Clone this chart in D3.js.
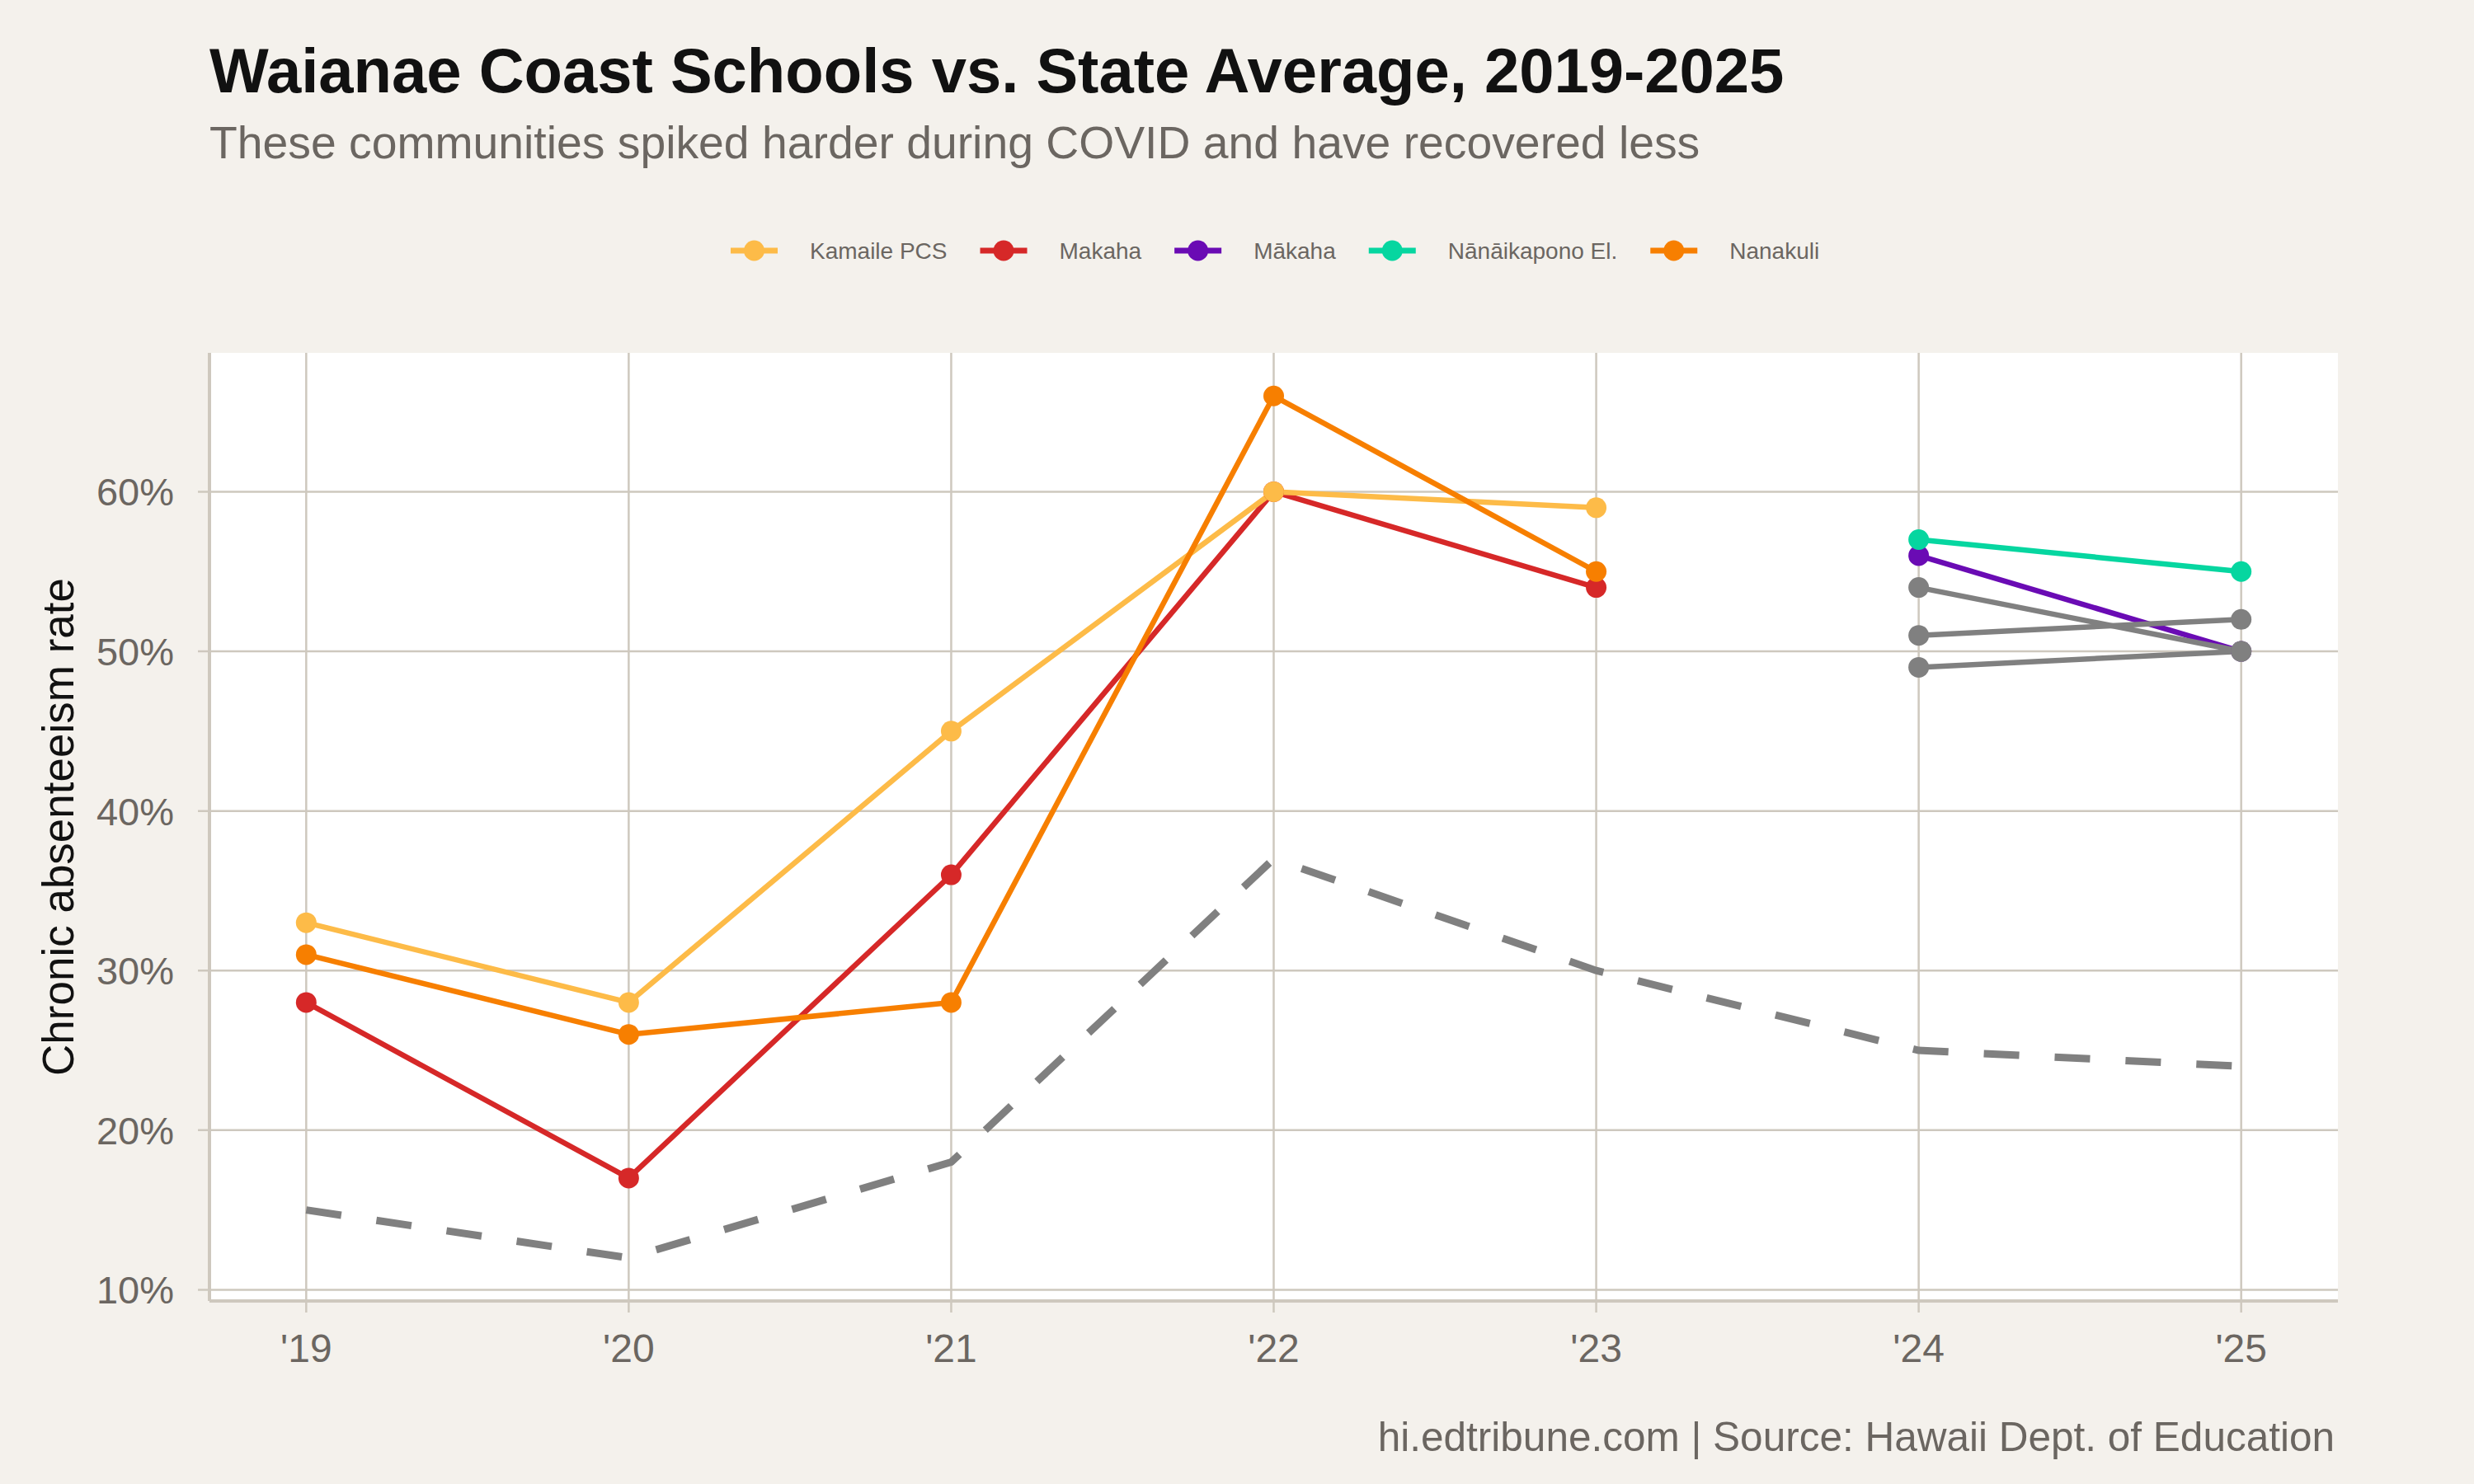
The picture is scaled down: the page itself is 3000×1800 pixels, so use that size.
<!DOCTYPE html>
<html>
<head>
<meta charset="utf-8">
<script src="https://cdn.jsdelivr.net/npm/d3@7"></script>
<style>
    body { margin: 0; background: #F4F1EC; }
    svg { display: block; font-family: "Liberation Sans", Arial, sans-serif; }
</style>
</head>
<body>
<script>
// school years (spring of the school year)
const years = [2019, 2020, 2021, 2022, 2023, 2024, 2025];
const yearLabels = ["'19", "'20", "'21", "'22", "'23", "'24", "'25"];
const yTicks = [10, 20, 30, 40, 50, 60];

// chronic absenteeism rate, percent (null = no data)
const stateAverage = [15, 12, 18, 37, 30, 25, 24];
const kamaile      = [33, 28, 45, 60, 59, null, null];
const makaha       = [28, 17, 36, 60, 54, null, null];
const nanakuli     = [31, 26, 28, 66, 55, null, null];
const makahaNew    = [null, null, null, null, null, 56, 50];
const nanaikapono  = [null, null, null, null, null, 57, 55];
const otherA       = [null, null, null, null, null, 54, 50];
const otherB       = [null, null, null, null, null, 51, 52];
const otherC       = [null, null, null, null, null, 49, 50];

const legendNames  = ['Kamaile PCS', 'Makaha', 'M\u0101kaha', 'N\u0101n\u0101ikapono El.', 'Nanakuli'];
const legendColors = ['#FDBB48', '#D62828', '#6A0BB4', '#06D6A0', '#F77F00'];

drawChart();

function drawChart()
{
    const width = 3000;
    const height = 1800;
    const margin = {left: 254, right: 165, top: 428, bottom: 222};
    const textGray = '#6B6661';
    const gridColor = '#CEC8BE';

    const svg = d3.select('body')
        .append('svg')
        .attr('width', width)
        .attr('height', height);

    svg.append('rect')
        .attr('width', width)
        .attr('height', height)
        .attr('fill', '#F4F1EC');

    // ggplot style 5% expansion on both axes
    const x = d3.scaleLinear()
        .domain([2018.7, 2025.3])
        .range([margin.left, width - margin.right]);

    const y = d3.scaleLinear()
        .domain([9.3, 68.7])
        .range([height - margin.bottom, margin.top]);

    // panel
    svg.append('rect')
        .attr('x', margin.left)
        .attr('y', margin.top)
        .attr('width', width - margin.left - margin.right)
        .attr('height', height - margin.top - margin.bottom)
        .attr('fill', '#FFFFFF');

    // grid
    svg.append('g')
        .selectAll('line')
        .data(yTicks)
        .join('line')
        .attr('x1', margin.left - 14)
        .attr('x2', width - margin.right)
        .attr('y1', d => y(d))
        .attr('y2', d => y(d))
        .attr('stroke', gridColor)
        .attr('stroke-width', 2.5);

    svg.append('g')
        .selectAll('line')
        .data(years)
        .join('line')
        .attr('x1', d => x(d))
        .attr('x2', d => x(d))
        .attr('y1', margin.top)
        .attr('y2', height - margin.bottom + 14)
        .attr('stroke', gridColor)
        .attr('stroke-width', 2.5);

    // axis lines
    svg.append('line')
        .attr('x1', margin.left)
        .attr('x2', margin.left)
        .attr('y1', margin.top)
        .attr('y2', height - margin.bottom)
        .attr('stroke', gridColor)
        .attr('stroke-width', 4);

    svg.append('line')
        .attr('x1', margin.left)
        .attr('x2', width - margin.right)
        .attr('y1', height - margin.bottom)
        .attr('y2', height - margin.bottom)
        .attr('stroke', gridColor)
        .attr('stroke-width', 4);

    // tick labels
    svg.append('g')
        .selectAll('text')
        .data(yTicks)
        .join('text')
        .attr('x', 211)
        .attr('y', d => y(d))
        .attr('dy', '0.36em')
        .attr('text-anchor', 'end')
        .attr('font-size', 47)
        .attr('fill', textGray)
        .text(d => d + '%');

    svg.append('g')
        .selectAll('text')
        .data(years)
        .join('text')
        .attr('x', d => x(d))
        .attr('y', 1652)
        .attr('text-anchor', 'middle')
        .attr('font-size', 48)
        .attr('fill', textGray)
        .text((d, i) => yearLabels[i]);

    svg.append('text')
        .attr('transform', 'translate(89, 1003) rotate(-90)')
        .attr('text-anchor', 'middle')
        .attr('font-size', 53)
        .attr('fill', '#111111')
        .text('Chronic absenteeism rate');

    // lines
    const line = d3.line()
        .defined(d => d.v !== null)
        .x(d => x(d.year))
        .y(d => y(d.v));

    const toPoints = values => years.map((year, i) => ({year: year, v: values[i]}));

    svg.append('path')
        .attr('d', line(toPoints(stateAverage)))
        .attr('fill', 'none')
        .attr('stroke', '#808080')
        .attr('stroke-width', 9)
        .attr('stroke-dasharray', '43 43');

    const series = [
        {values: makaha, color: legendColors[1]},
        {values: kamaile, color: legendColors[0]},
        {values: nanakuli, color: legendColors[4]},
        {values: makahaNew, color: legendColors[2]},
        {values: nanaikapono, color: legendColors[3]},
        {values: otherA, color: '#808080'},
        {values: otherB, color: '#808080'},
        {values: otherC, color: '#808080'}
    ];

    series.forEach(s =>
    {
        svg.append('path')
            .attr('d', line(toPoints(s.values)))
            .attr('fill', 'none')
            .attr('stroke', s.color)
            .attr('stroke-width', 6.5)
            .attr('stroke-linejoin', 'round');
    });

    series.forEach(s =>
    {
        svg.append('g')
            .selectAll('circle')
            .data(toPoints(s.values).filter(d => d.v !== null))
            .join('circle')
            .attr('cx', d => x(d.year))
            .attr('cy', d => y(d.v))
            .attr('r', 12.5)
            .attr('fill', s.color);
    });

    // legend
    const legend = svg.append('g');
    let lx = 886;
    legendNames.forEach((name, i) =>
    {
        legend.append('line')
            .attr('x1', lx)
            .attr('x2', lx + 57)
            .attr('y1', 304)
            .attr('y2', 304)
            .attr('stroke', legendColors[i])
            .attr('stroke-width', 7);
        legend.append('circle')
            .attr('cx', lx + 28.5)
            .attr('cy', 304)
            .attr('r', 12.5)
            .attr('fill', legendColors[i]);
        const t = legend.append('text')
            .attr('x', lx + 96)
            .attr('y', 314)
            .attr('font-size', 28)
            .attr('fill', textGray)
            .text(name);
        lx += 96 + t.node().getComputedTextLength() + 40;
    });

    // titles
    svg.append('text')
        .attr('x', 254)
        .attr('y', 112)
        .attr('font-size', 76)
        .attr('font-weight', 'bold')
        .attr('fill', '#111111')
        .text('Waianae Coast Schools vs. State Average, 2019-2025');

    svg.append('text')
        .attr('x', 254)
        .attr('y', 192)
        .attr('font-size', 55.3)
        .attr('fill', textGray)
        .text('These communities spiked harder during COVID and have recovered less');

    svg.append('text')
        .attr('x', 2831)
        .attr('y', 1760)
        .attr('text-anchor', 'end')
        .attr('font-size', 49.5)
        .attr('fill', textGray)
        .text('hi.edtribune.com | Source: Hawaii Dept. of Education');
}
</script>
</body>
</html>
